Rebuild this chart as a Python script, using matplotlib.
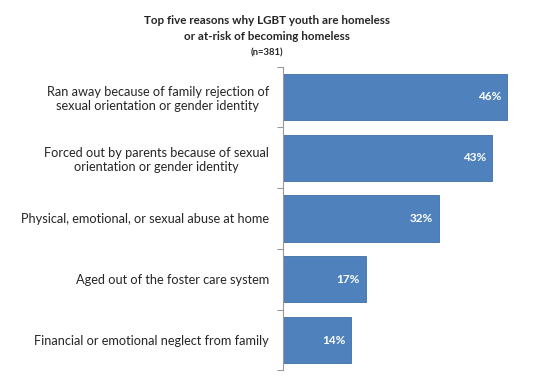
import matplotlib
matplotlib.use("Agg")
import matplotlib.pyplot as plt
from matplotlib.ticker import FixedLocator

categories = [
    "Ran away because of family rejection of\nsexual orientation or gender identity",
    "Forced out by parents because of sexual\norientation or gender identity",
    "Physical, emotional, or sexual abuse at home",
    "Aged out of the foster care system",
    "Financial or emotional neglect from family",
]
values = [46, 43, 32, 17, 14]
value_labels = ["46%", "43%", "32%", "17%", "14%"]
title_lines = ["Top five reasons why LGBT youth are homeless", "or at-risk of becoming homeless"]
subtitle = "(n=381)"

plt.rcParams['font.family'] = ['Lato', 'DejaVu Sans']

fig = plt.figure(figsize=(5.4, 3.77), dpi=100)
ax = fig.add_axes([283/540, 1 - 370.4/377, (526-283)/540, (370.4-66.6)/377])

color = "#4F81BD"
ypos = list(range(len(values)))
ax.barh(ypos, values, height=0.76, color=color, edgecolor="#3F6EA6", linewidth=0.6)
ax.set_xlim(0, 50)
ax.set_ylim(4.5, -0.5)

for y, v, lab in zip(ypos, values, value_labels):
    ax.annotate(lab, xy=(v, y), xytext=(-4, 0), textcoords="offset points",
                ha="right", va="center", color="white", fontsize=8.5, fontweight="bold")

ax.set_yticks(ypos)
ax.set_yticklabels(categories, fontsize=9.2, color="#262626", multialignment="center")
ax.tick_params(axis="y", which="major", length=0, pad=10)
ax.yaxis.set_minor_locator(FixedLocator([-0.5, 0.5, 1.5, 2.5, 3.5, 4.5]))
ax.tick_params(axis="y", which="minor", length=4, color="#999999", width=0.8)
ax.set_xticks([])
for s in ["top", "right", "bottom"]:
    ax.spines[s].set_visible(False)
ax.spines["left"].set_color("#999999")
ax.spines["left"].set_linewidth(0.8)

fig.text(267/540, 1 - 20/377, title_lines[0], ha="center", va="center",
         fontsize=8.4, fontweight="bold", color="#262626")
fig.text(267/540, 1 - 36/377, title_lines[1], ha="center", va="center",
         fontsize=8.4, fontweight="bold", color="#262626")
fig.text(267/540, 1 - 53/377, subtitle, ha="center", va="center",
         fontsize=6.8, fontweight="bold", color="#262626")

fig.savefig("out.png", dpi=100)
